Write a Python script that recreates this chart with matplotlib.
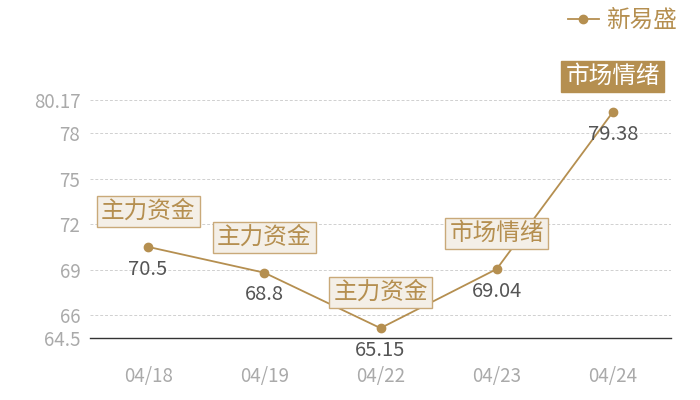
import matplotlib.pyplot as plt

plt.rcParams['font.family'] = ['Noto Sans CJK SC', 'DejaVu Sans']

dates = ["04/18", "04/19", "04/22", "04/23", "04/24"]
values = [70.5, 68.8, 65.15, 69.04, 79.38]
tags = ["主力资金", "主力资金", "主力资金", "市场情绪", "市场情绪"]
y_ticks = [64.5, 66, 69, 72, 75, 78, 80.17]
y_labels = ["64.5", "66", "69", "72", "75", "78", "80.17"]
series_name = "新易盛"

gold = "#b58f50"
fig = plt.figure(figsize=(7, 4), dpi=100)
ax = fig.add_axes([90 / 700, 62 / 400, 581 / 700, 238 / 400])

x = list(range(len(dates)))
ax.plot(x, values, color=gold, linewidth=1.3, marker="o", markersize=6,
        label=series_name, zorder=3)

for i, (v, t) in enumerate(zip(values, tags)):
    # value label under the point
    ax.annotate(f"{v:g}", (i, v), xytext=(0, -16), textcoords="offset points",
                ha="center", va="center", fontsize=14.5, color="#555555", zorder=5)
    # tag box above the point
    last = i == len(values) - 1
    ax.annotate(t, (i, v), xytext=(0, 25.5), textcoords="offset points",
                ha="center", va="center", fontsize=17,
                color="white" if last else gold, zorder=4,
                bbox=dict(boxstyle="square,pad=0.18",
                          fc=gold if last else "#f4efe7",
                          ec=gold if last else "#c9a979", lw=1))

ax.set_xlim(-0.5, len(dates) - 0.5)
ax.set_ylim(64.5, 80.17)
ax.set_xticks(x)
ax.set_xticklabels(dates)
ax.set_yticks(y_ticks)
ax.set_yticklabels(y_labels)
ax.tick_params(axis="x", length=0, pad=20, labelsize=13.5, labelcolor="#aaaaaa")
ax.tick_params(axis="y", length=0, pad=7, labelsize=13.5, labelcolor="#aaaaaa")
ax.grid(axis="y", linestyle=(0, (3, 2)), color="#d0d0d0", linewidth=0.7)
ax.set_axisbelow(True)
for s in ["top", "right", "left"]:
    ax.spines[s].set_visible(False)
ax.spines["bottom"].set_color("#333333")
ax.spines["bottom"].set_linewidth(1)

leg = fig.legend(loc="upper right", bbox_to_anchor=(0.997, 1.03), frameon=False,
                 fontsize=17, handlelength=1.3, handletextpad=0.3)
for txt in leg.get_texts():
    txt.set_color(gold)

fig.savefig("out.png", dpi=100)
